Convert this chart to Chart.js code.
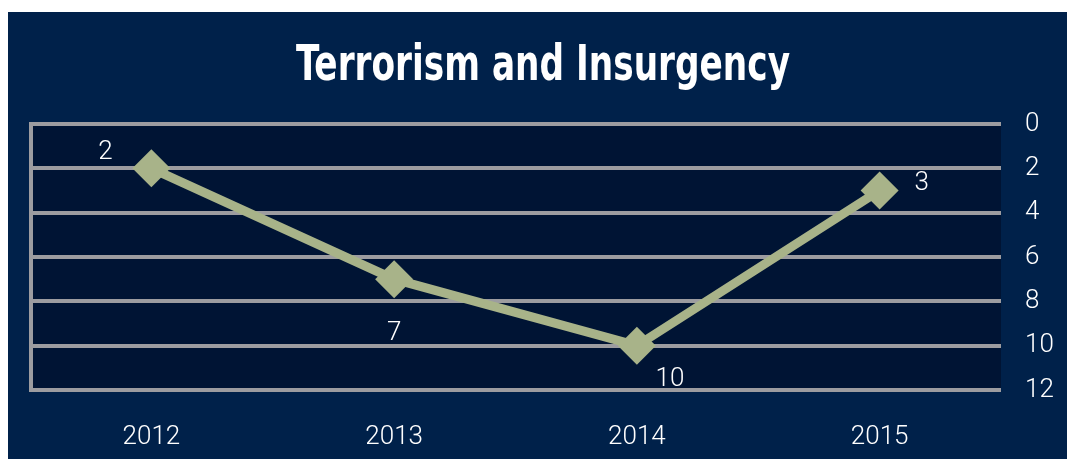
<!DOCTYPE html>
<html lang="en">
<head>
    <meta charset="UTF-8">
    <title>Terrorism and Insurgency</title>
    <script src="https://cdn.jsdelivr.net/npm/chart.js@4.4.0/dist/chart.umd.min.js"></script>
    <style>
        body { margin: 0; background: #ffffff; }
        #wrap { position: absolute; left: 8px; top: 12px; width: 1059px; height: 447px; background: #00214a; }
    </style>
</head>
<body>

    <div id="wrap">
        <canvas id="chart-terror"></canvas>
    </div>

    <script>
        const years = ['2012', '2013', '2014', '2015'];
        const ranks = [2, 7, 10, 3];
        const yTicks = [0, 2, 4, 6, 8, 10, 12];
        const chartTitle = 'Terrorism and Insurgency';

        const tickFont = { family: 'Roboto', size: 26, weight: '300' };

        // where each value label sits relative to its point
        const labelOffsets = [[-46, -16], [0, 54], [33, 34], [42, -7]];

        const plotBg = {
            id: 'plotBg',
            beforeDraw(chart) {
                const { ctx, chartArea: a } = chart;
                ctx.save();
                ctx.fillStyle = '#001434';
                ctx.fillRect(a.left, a.top, a.right - a.left, a.bottom - a.top);
                ctx.strokeStyle = '#9c9ca0';
                ctx.lineWidth = 4;
                ctx.beginPath();
                ctx.moveTo(a.left + 1, a.top - 2);
                ctx.lineTo(a.left + 1, a.bottom + 2);
                ctx.stroke();
                ctx.restore();
            }
        };

        const titleText = {
            id: 'titleText',
            afterDraw(chart) {
                const ctx = chart.ctx;
                ctx.save();
                ctx.fillStyle = '#ffffff';
                ctx.font = 'bold 50px "Liberation Sans Narrow", "DejaVu Sans Condensed", sans-serif';
                ctx.textAlign = 'center';
                ctx.textBaseline = 'alphabetic';
                ctx.fillText(chartTitle, 535, 68, 494);
                ctx.restore();
            }
        };

        const valueLabels = {
            id: 'valueLabels',
            afterDatasetsDraw(chart) {
                const ctx = chart.ctx;
                const meta = chart.getDatasetMeta(0);
                ctx.save();
                ctx.fillStyle = '#ffffff';
                ctx.font = '300 26px Roboto';
                ctx.textAlign = 'center';
                ctx.textBaseline = 'middle';
                meta.data.forEach((pt, i) => {
                    const off = labelOffsets[i];
                    ctx.fillText(String(ranks[i]), pt.x + off[0], pt.y + off[1]);
                });
                ctx.restore();
            }
        };

        const ctx = document.getElementById('chart-terror').getContext('2d');
        const myChart = new Chart(ctx, {
            type: 'line',
            data: {
                labels: years,
                datasets: [{
                    label: chartTitle,
                    data: ranks,
                    borderColor: '#a8b389',
                    backgroundColor: '#a8b389',
                    borderWidth: 9,
                    tension: 0,
                    pointStyle: 'rectRot',
                    pointRadius: 19,
                    pointHoverRadius: 19,
                    pointBorderWidth: 0,
                    pointBackgroundColor: '#a8b389'
                }]
            },
            options: {
                responsive: true,
                maintainAspectRatio: false,
                animation: false,
                layout: {
                    padding: { top: 112, left: 22, right: 0, bottom: 0 }
                },
                plugins: {
                    legend: { display: false },
                    title: { display: false },
                    tooltip: { enabled: false }
                },
                scales: {
                    x: {
                        offset: true,
                        grid: { display: false },
                        border: { display: false },
                        ticks: { color: '#ffffff', font: tickFont, padding: 24 },
                        afterFit(scale) { scale.height = 69; }
                    },
                    y: {
                        position: 'right',
                        reverse: true,
                        min: 0,
                        max: 12,
                        afterBuildTicks(scale) {
                            scale.ticks = yTicks.map(v => ({ value: v }));
                        },
                        grid: { color: '#9c9ca0', lineWidth: 4, drawTicks: false },
                        border: { display: false },
                        ticks: { color: '#ffffff', font: tickFont, padding: 24 },
                        afterFit(scale) { scale.width = 66; }
                    }
                }
            },
            plugins: [plotBg, titleText, valueLabels]
        });
    </script>
</body>
</html>
